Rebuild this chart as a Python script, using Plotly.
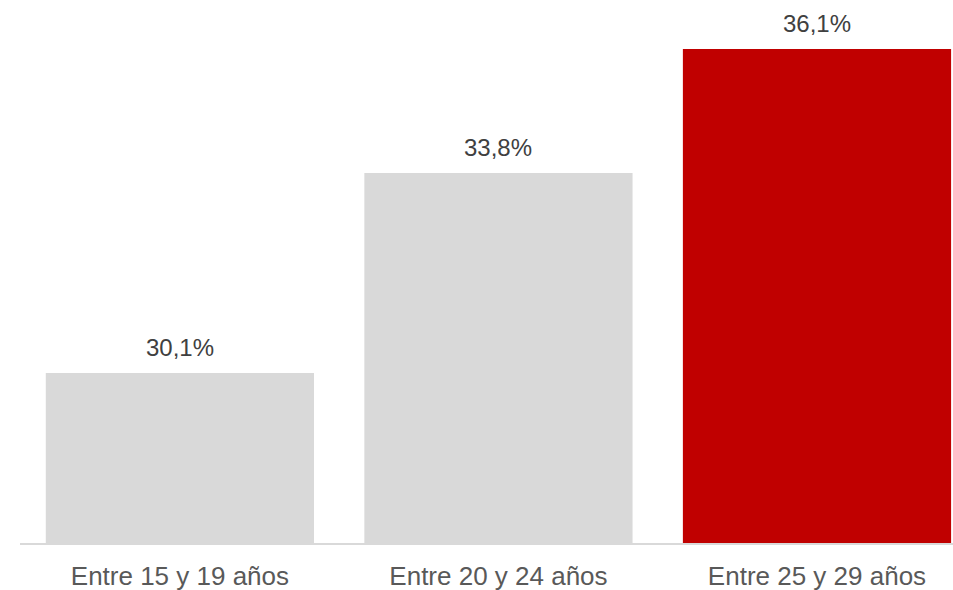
import plotly.graph_objects as go

categories = ["Entre 15 y 19 años", "Entre 20 y 24 años", "Entre 25 y 29 años"]
values = [30.1, 33.8, 36.1]
labels = ["30,1%", "33,8%", "36,1%"]
colors = ["#D9D9D9", "#D9D9D9", "#C00000"]

FONT = "Liberation Sans, Arial, sans-serif"
xpos = list(range(len(categories)))

fig = go.Figure(go.Bar(
    x=xpos, y=values, width=0.842,
    marker=dict(color=colors, line=dict(width=0)),
    hoverinfo="skip",
))

for xi, v, lab in zip(xpos, values, labels):
    fig.add_annotation(
        x=xi, y=v, text=lab, showarrow=False, xref="x", yref="y",
        yanchor="bottom", yshift=10,
        font=dict(family=FONT, size=24, color="#404040"),
    )

fig.update_layout(
    width=953, height=590,
    margin=dict(l=20, r=0, t=0, b=47),
    plot_bgcolor="white", paper_bgcolor="white",
    showlegend=False,
    xaxis=dict(
        range=[-0.502, 2.427], tickmode="array", tickvals=xpos, ticktext=categories,
        showgrid=False, zeroline=False, showline=True, linecolor="#D9D9D9", linewidth=2,
        tickfont=dict(family=FONT, size=26, color="#595959"),
        ticks="", ticklen=0, automargin=False, ticklabelstandoff=9,
    ),
    yaxis=dict(range=[26.95, 37.006], visible=False, showgrid=False, zeroline=False),
)

fig.write_html(
    "out.html",
    config={"displayModeBar": False},
    post_script="document.body.style.margin='0';document.body.style.overflow='hidden';",
)
